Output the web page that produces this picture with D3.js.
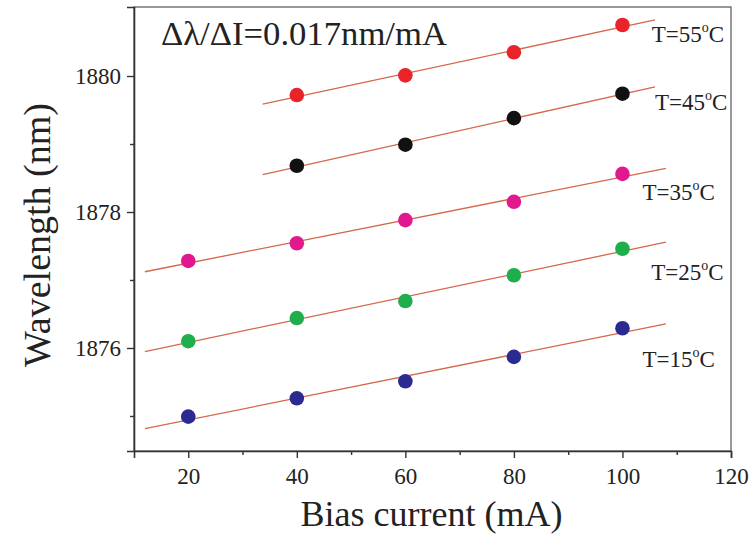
<!DOCTYPE html>
<html><head><meta charset="utf-8">
<script src="https://cdn.jsdelivr.net/npm/d3@7"></script>
<style>body{margin:0;background:#fff}svg{display:block}text{font-family:"Liberation Serif","Times New Roman",serif;fill:#222}</style>
</head><body>
<script>
// ---- data ----
const currents = [20, 40, 60, 80, 100];
const temps = ["15", "25", "35", "45", "55"];
const wl15 = [1874.99, 1875.26, 1875.51, 1875.87, 1876.29];
const wl25 = [1876.10, 1876.44, 1876.69, 1877.07, 1877.46];
const wl35 = [1877.28, 1877.54, 1877.88, 1878.15, 1878.56];
const wl45 = [null, 1878.68, 1878.99, 1879.38, 1879.74];
const wl55 = [null, 1879.72, 1880.01, 1880.35, 1880.75];
const fitFrom = [12, 12, 12, 33.7, 33.7];
const fitTo = [108, 108, 108, 106, 106];
const labelX = [103.7, 105.3, 103.7, 106.0, 105.4];
const labelY = [1875.72, 1877.0, 1878.18, 1879.5, 1880.5];
const colors = ["#2b2a90", "#1fae4c", "#e2188f", "#111111", "#e8232a"];
const xTicks = [20, 40, 60, 80, 100, 120];
const xMinor = [30, 50, 70, 90, 110];
const yTicks = [1876, 1878, 1880];
const yMinor = [1875, 1877, 1879];
const series = [wl15, wl25, wl35, wl45, wl55];

const W = 753, H = 538;
const L = 134, R = 731, T = 7, B = 451;
const svg = d3.select("body").append("svg").attr("width", W).attr("height", H);
const x = d3.scaleLinear().domain([10, 120]).range([L, R]);
const y = d3.scaleLinear().domain([1874.485, 1881.015]).range([B, T]);

// fit lines (least squares)
series.forEach((s, i) => {
  const pts = currents.map((c, j) => [c, s[j]]).filter(p => p[1] != null);
  const mx = d3.mean(pts, p => p[0]), my = d3.mean(pts, p => p[1]);
  const slope = d3.sum(pts, p => (p[0] - mx) * (p[1] - my)) / d3.sum(pts, p => (p[0] - mx) ** 2);
  const f = v => my + slope * (v - mx);
  svg.append("line")
    .attr("x1", x(fitFrom[i])).attr("y1", y(f(fitFrom[i])))
    .attr("x2", x(fitTo[i])).attr("y2", y(f(fitTo[i])))
    .attr("stroke", "#d5674b").attr("stroke-width", 1.3);
});

// points
series.forEach((s, i) => {
  svg.append("g").selectAll("circle")
    .data(currents.map((c, j) => [c, s[j]]).filter(p => p[1] != null))
    .join("circle")
    .attr("cx", d => x(d[0])).attr("cy", d => y(d[1])).attr("r", 7.3)
    .attr("fill", colors[i]);
});

// frame
svg.append("rect").attr("x", L).attr("y", T).attr("width", R - L).attr("height", B - T)
  .attr("fill", "none").attr("stroke", "#555").attr("stroke-width", 1.2);

// axes
const xAxis = d3.axisBottom(x).tickValues(xTicks).tickSize(7).tickPadding(10).tickFormat(d3.format("d"));
svg.append("g").attr("transform", `translate(0,${B})`).call(xAxis);
svg.append("g").attr("transform", `translate(0,${B})`)
  .call(d3.axisBottom(x).tickValues(xMinor).tickSize(4).tickFormat(""))
  .call(g => g.select(".domain").remove());
const yAxis = d3.axisLeft(y).tickValues(yTicks).tickSize(7).tickPadding(6).tickFormat(d3.format("d"));
svg.append("g").attr("transform", `translate(${L},0)`).call(yAxis);
svg.append("g").attr("transform", `translate(${L},0)`)
  .call(d3.axisLeft(y).tickValues(yMinor).tickSize(4).tickFormat(""))
  .call(g => g.select(".domain").remove());
svg.selectAll(".domain").attr("stroke", "#333").attr("stroke-width", 1.6);
svg.selectAll(".tick line").attr("stroke", "#333").attr("stroke-width", 1.4);
svg.selectAll(".tick text").attr("font-family", "Liberation Serif, Times New Roman, serif")
  .attr("font-size", 23).attr("fill", "#333");

// axis titles
svg.append("text").attr("x", (L + R) / 2 - 1).attr("y", 526).attr("text-anchor", "middle")
  .attr("font-size", 36).text("Bias current (mA)");
svg.append("text").attr("transform", `translate(50,${(T + B) / 2 + 6}) rotate(-90)`)
  .attr("text-anchor", "middle").attr("font-size", 38).text("Wavelength (nm)");

// annotation
svg.append("text").attr("x", 161).attr("y", 45).attr("font-size", 33)
  .attr("textLength", 286).attr("lengthAdjust", "spacingAndGlyphs")
  .text("Δλ/ΔI=0.017nm/mA");

// temperature labels
temps.forEach((t, i) => {
  const tx = svg.append("text").attr("x", x(labelX[i])).attr("y", y(labelY[i])).attr("font-size", 23);
  tx.append("tspan").text("T=" + t);
  tx.append("tspan").attr("font-size", 14).attr("dy", -10).text("o");
  tx.append("tspan").attr("dy", 10).text("C");
});
</script>
</body></html>
